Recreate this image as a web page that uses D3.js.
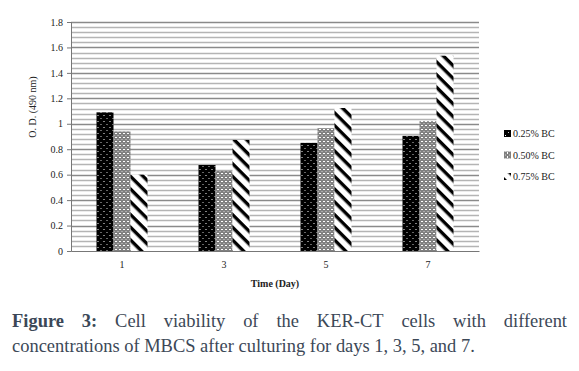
<!DOCTYPE html>
<html>
<head>
<meta charset="utf-8">
<script src="https://cdn.jsdelivr.net/npm/d3@7"></script>
<style>
  body { margin: 0; background: #fff; }
  svg { display: block; }
  .tick text { font-family: "Liberation Serif", serif; font-size: 10px; fill: #222; }
</style>
</head>
<body>
<svg id="chart" width="579" height="371"></svg>
<script>
// data
var days = ["1", "3", "5", "7"]
var seriesNames = ["0.25% BC", "0.50% BC", "0.75% BC"]
var bc025 = [1.09, 0.676, 0.85, 0.905]
var bc050 = [0.94, 0.63, 0.965, 1.02]
var bc075 = [0.60, 0.873, 1.124, 1.535]
var yTicks = [0, 0.2, 0.4, 0.6, 0.8, 1, 1.2, 1.4, 1.6, 1.8]

var seriesValues = [bc025, bc050, bc075]

var svg = d3.select("#chart")
var margin = { top: 22, left: 71, right: 100, bottom: 120 }
var plotW = 408, plotH = 229

var defs = svg.append("defs")

// dotted black
var p1 = defs.append("pattern").attr("id", "pat0").attr("patternUnits", "userSpaceOnUse")
    .attr("width", 6).attr("height", 6)
p1.append("rect").attr("width", 6).attr("height", 6).attr("fill", "#000")
p1.append("rect").attr("x", 1).attr("y", 1).attr("width", 1).attr("height", 1).attr("fill", "#fff")
p1.append("rect").attr("x", 4).attr("y", 4).attr("width", 1).attr("height", 1).attr("fill", "#ccc")

// small grid / checker
var p2 = defs.append("pattern").attr("id", "pat1").attr("patternUnits", "userSpaceOnUse")
    .attr("width", 4).attr("height", 4)
p2.append("rect").attr("width", 4).attr("height", 4).attr("fill", "#fff")
p2.append("rect").attr("x", 0).attr("y", 0).attr("width", 1).attr("height", 1).attr("fill", "#000")
p2.append("rect").attr("x", 2).attr("y", 0).attr("width", 1).attr("height", 1).attr("fill", "#000")
p2.append("rect").attr("x", 1).attr("y", 1).attr("width", 1).attr("height", 1).attr("fill", "#000")
p2.append("rect").attr("x", 0).attr("y", 2).attr("width", 1).attr("height", 1).attr("fill", "#000")
p2.append("rect").attr("x", 2).attr("y", 2).attr("width", 1).attr("height", 1).attr("fill", "#000")
p2.append("rect").attr("x", 3).attr("y", 3).attr("width", 1).attr("height", 1).attr("fill", "#000")
p2.append("rect").attr("x", 1).attr("y", 3).attr("width", 1).attr("height", 1).attr("fill", "#555")

// wide downward diagonal
var p3 = defs.append("pattern").attr("id", "pat2").attr("patternUnits", "userSpaceOnUse")
    .attr("width", 9).attr("height", 9).attr("patternTransform", "rotate(45)")
p3.append("rect").attr("width", 9).attr("height", 9).attr("fill", "#fff")
p3.append("rect").attr("width", 9).attr("height", 3.4).attr("fill", "#000")

var x0 = d3.scaleBand().domain(days).range([margin.left, margin.left + plotW])
    .paddingInner(0.5).paddingOuter(0.25)
var x1 = d3.scaleBand().domain(d3.range(3)).range([0, x0.bandwidth()])
var y = d3.scaleLinear().domain([0, 1.8]).range([margin.top + plotH, margin.top])

// gridlines: minor every 0.04, major every 0.2
var minor = d3.range(0, 1.8001, 0.04).filter(function (v) { return Math.abs(v / 0.2 - Math.round(v / 0.2)) > 0.01 })
svg.append("g").selectAll("line").data(minor).enter().append("line")
    .attr("x1", margin.left).attr("x2", margin.left + plotW)
    .attr("y1", function (d) { return Math.round(y(d)) + 0.5 })
    .attr("y2", function (d) { return Math.round(y(d)) + 0.5 })
    .attr("stroke", "#b4b4b4").attr("stroke-width", 1.3)
svg.append("g").selectAll("line").data(yTicks.slice(1)).enter().append("line")
    .attr("x1", margin.left).attr("x2", margin.left + plotW)
    .attr("y1", function (d) { return Math.round(y(d)) + 0.5 })
    .attr("y2", function (d) { return Math.round(y(d)) + 0.5 })
    .attr("stroke", "#8a8a8a").attr("stroke-width", 1.5)

// bars
var groups = svg.append("g").selectAll("g").data(days).enter().append("g")
    .attr("transform", function (d) { return "translate(" + x0(d) + ",0)" })
groups.selectAll("rect").data(function (d, i) {
        return seriesValues.map(function (s, k) { return { k: k, v: s[i] } })
    }).enter().append("rect")
    .attr("x", function (d) { return x1(d.k) })
    .attr("width", x1.bandwidth())
    .attr("y", function (d) { return y(d.v) })
    .attr("height", function (d) { return y(0) - y(d.v) })
    .attr("fill", function (d) { return "url(#pat" + d.k + ")" })

// axes
var yAxis = d3.axisLeft(y).tickValues(yTicks).tickSize(4).tickPadding(4)
    .tickFormat(function (d) { return d3.format("~g")(d) })
var gy = svg.append("g").attr("transform", "translate(" + margin.left + ",0)").call(yAxis)
gy.select(".domain").attr("stroke", "#777")
gy.selectAll(".tick line").attr("stroke", "#777")

var gx = svg.append("g").attr("transform", "translate(0," + (margin.top + plotH) + ")")
    .call(d3.axisBottom(x0).tickSize(0).tickPadding(10))
gx.select(".domain").attr("stroke", "#777")

svg.append("text")
    .attr("transform", "translate(36,107) rotate(-90)")
    .attr("text-anchor", "middle")
    .style("font-family", "Liberation Serif, serif").style("font-size", "10px").attr("fill", "#222")
    .text("O. D. (490 nm)")

svg.append("text")
    .attr("x", margin.left + plotW / 2).attr("y", 287)
    .attr("text-anchor", "middle")
    .style("font-family", "Liberation Serif, serif").style("font-size", "10px").style("font-weight", "bold")
    .attr("fill", "#222")
    .text("Time (Day)")

// legend
var legend = svg.append("g").selectAll("g").data(seriesNames).enter().append("g")
    .attr("transform", function (d, i) { return "translate(504," + (134 + i * 21.5) + ")" })
legend.append("rect").attr("x", 0).attr("y", -4).attr("width", 7).attr("height", 7)
    .attr("fill", function (d, i) { return "url(#pat" + i + ")" })
legend.append("text").attr("x", 9).attr("y", 3)
    .style("font-family", "Liberation Serif, serif").style("font-size", "10px").attr("fill", "#222")
    .text(function (d) { return d })

// caption
var capColor = "#3c4857"
var capFont = "Liberation Serif, serif"
var line2 = "concentrations of MBCS after culturing for days 1, 3, 5, and 7."
var l2 = svg.append("text").attr("x", 12).attr("y", 352)
    .style("font-family", capFont).style("font-size", "18px").attr("fill", capColor)
    .text(line2)
var fs = 18 * 463 / l2.node().getComputedTextLength()
l2.style("font-size", fs + "px")

var words1 = ["Figure", "3:", "Cell", "viability", "of", "the", "KER-CT", "cells", "with", "different"]
var wordNodes = words1.map(function (w, i) {
    return svg.append("text").attr("y", 327)
        .style("font-family", capFont).style("font-size", fs + "px")
        .style("font-weight", i < 2 ? "bold" : "normal")
        .attr("fill", capColor).text(w)
})
var widths = wordNodes.map(function (t) { return t.node().getComputedTextLength() })
var gap = (567 - 12 - d3.sum(widths)) / (words1.length - 1)
var cx = 12
wordNodes.forEach(function (t, i) {
    t.attr("x", cx)
    cx += widths[i] + gap
})
</script>
</body>
</html>
